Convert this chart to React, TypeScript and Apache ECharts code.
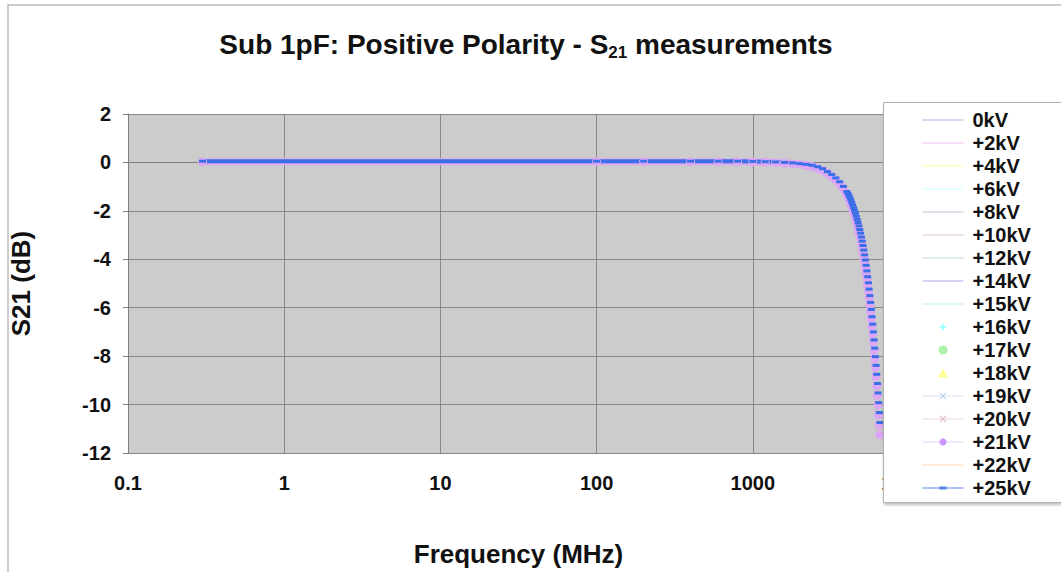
import React, { useEffect, useRef } from "react";
import * as echarts from "echarts";

// Frequency sweep (MHz)
const freqMHz = [
  0.3, 100, 200, 400, 600, 800, 1000, 1200, 1400, 1600, 1800, 2000, 2200, 2400, 2600, 2800, 3000, 3200, 3400, 3600, 3800, 4000,
  4060, 4120, 4180, 4240, 4300, 4360, 4420, 4480, 4540, 4600, 4660, 4720, 4780, 4840, 4900, 4960, 5020, 5080, 5140, 5200,
  5260, 5320, 5380, 5440, 5500, 5560, 5620, 5680, 5740, 5800, 5860, 5920, 5980, 6040, 6100, 6160, 6220, 6280, 6340, 6400,
  6460, 6520,
];

// S21 (dB) for +25kV (blue, drawn on top)
const s21_25kV = [
  0.05, 0.05, 0.05, 0.05, 0.05, 0.05, 0.04, 0.03, 0.02, 0.0, -0.02, -0.05, -0.08, -0.12, -0.18, -0.26, -0.38, -0.5, -0.64, -0.8, -0.99, -1.2,
  -1.28, -1.36, -1.45, -1.55, -1.65, -1.76, -1.87, -1.98, -2.1, -2.22, -2.35, -2.48, -2.62, -2.77, -2.92, -3.08, -3.25, -3.43, -3.62, -3.82,
  -4.03, -4.25, -4.48, -4.72, -4.97, -5.23, -5.5, -5.78, -6.07, -6.37, -6.68, -7.0, -7.33, -7.67, -8.02, -8.38, -8.75, -9.13, -9.52, -9.92,
  -10.33, -10.74,
];

// S21 (dB) for +21kV (lavender circles)
const s21_21kV = [
  0.03, 0.03, 0.03, 0.03, 0.03, 0.03, 0.02, 0.01, 0.0, -0.03, -0.05, -0.08, -0.12, -0.17, -0.24, -0.33, -0.44, -0.57, -0.72, -0.89, -1.09, -1.31,
  -1.4, -1.49, -1.59, -1.7, -1.81, -1.92, -2.04, -2.16, -2.29, -2.42, -2.56, -2.7, -2.85, -3.01, -3.17, -3.35, -3.53, -3.72, -3.92, -4.13,
  -4.35, -4.58, -4.82, -5.07, -5.33, -5.6, -5.88, -6.17, -6.47, -6.78, -7.1, -7.43, -7.77, -8.12, -8.48, -8.85, -9.23, -9.62, -10.02, -10.43,
  -10.84, -11.25,
];

// S21 (dB) for the remaining voltages (hidden underneath)
const s21_others = [
  0.04, 0.04, 0.04, 0.04, 0.04, 0.04, 0.03, 0.02, 0.01, -0.015, -0.035, -0.065, -0.1, -0.145, -0.21, -0.3, -0.41, -0.54, -0.68, -0.85, -1.04, -1.26,
  -1.34, -1.43, -1.52, -1.63, -1.73, -1.84, -1.96, -2.07, -2.2, -2.32, -2.46, -2.59, -2.74, -2.89, -3.05, -3.22, -3.39, -3.58, -3.77, -3.98,
  -4.19, -4.42, -4.65, -4.9, -5.15, -5.42, -5.69, -5.98, -6.27, -6.58, -6.89, -7.22, -7.55, -7.9, -8.25, -8.62, -8.99, -9.38, -9.77, -10.18,
  -10.59, -11.0,
];

const seriesNames = [
  "0kV", "+2kV", "+4kV", "+6kV", "+8kV", "+10kV", "+12kV", "+14kV", "+15kV",
  "+16kV", "+17kV", "+18kV", "+19kV", "+20kV", "+21kV", "+22kV", "+25kV",
];

const xTickValues = [0.1, 1, 10, 100, 1000, 10000];
const xTickLabels = ["0.1", "1", "10", "100", "1000", "10000"];

const X_PATH = "path://M0,1L1,0L5,4L9,0L10,1L6,5L10,9L9,10L5,6L1,10L0,9L4,5Z";
const LINE_ICON = "path://M0,0H41V1.2H0Z";
const DIAMOND_ICON = "path://M4,0L5,3L8,4L5,5L4,8L3,5L0,4L3,3Z";
const TRIANGLE_ICON = "path://M4,0L8,7H0Z";
const DASH_ICON = "path://M0,4.6H17V5.4H0ZM17,3.5H24V6.5H17ZM24,4.6H41V5.4H24Z";

type Style = {
  kind: "line" | "scatter";
  color: string;
  width?: number;
  symbol?: string;
  size?: number | number[];
  values: number[];
  legendLine?: string;
  legendMarker?: string;
  legendIcon?: string;
};

const styles: Style[] = [
  { kind: "line", color: "#b4b4e6", width: 1.5, values: s21_others },
  { kind: "line", color: "#f2bdf2", width: 1.5, values: s21_others },
  { kind: "line", color: "#ffff9c", width: 1.5, values: s21_others },
  { kind: "line", color: "#c8ffff", width: 1.5, values: s21_others },
  { kind: "line", color: "#cfc0d8", width: 1.5, values: s21_others },
  { kind: "line", color: "#e2c4c4", width: 1.5, values: s21_others },
  { kind: "line", color: "#c2dada", width: 1.5, values: s21_others },
  { kind: "line", color: "#aaaaee", width: 1.5, values: s21_others },
  { kind: "line", color: "#c0eeee", width: 1.5, values: s21_others },
  { kind: "scatter", color: "#88ffff", symbol: "diamond", size: 6, values: s21_others, legendIcon: DIAMOND_ICON },
  { kind: "scatter", color: "#99ee99", symbol: "circle", size: 7, values: s21_others },
  { kind: "scatter", color: "#ffff77", symbol: "triangle", size: 6, values: s21_others, legendIcon: TRIANGLE_ICON },
  { kind: "line", color: "#b8cce6", width: 1, symbol: X_PATH, size: 6, values: s21_others, legendLine: "#d4e0f0" },
  { kind: "line", color: "#dcb0c0", width: 1, symbol: X_PATH, size: 6, values: s21_others, legendLine: "#ecd4dc" },
  { kind: "line", color: "#dca6f4", width: 7, symbol: "circle", size: 9, values: s21_21kV, legendLine: "#e8d0fa", legendMarker: "#c898ff" },
  { kind: "line", color: "#ffd4b4", width: 1.5, values: s21_others },
  { kind: "line", color: "#3b6fe8", width: 4, symbol: "rect", size: [7, 3], values: s21_25kV, legendIcon: DASH_ICON, legendMarker: "#5a84ea" },
];

const FONT = "'Liberation Sans', Arial, Helvetica, sans-serif";

export default function App() {
  const ref = useRef<HTMLDivElement>(null);

  useEffect(() => {
    document.body.style.margin = "0";
    if (!ref.current) return;
    const chart = echarts.init(ref.current, undefined, { renderer: "svg" });

    const series = seriesNames.map((name, i) => {
      const s = styles[i];
      const data = freqMHz.map((f, j) => [f, s.values[j]]);
      if (s.kind === "scatter") {
        return {
          name,
          type: "scatter",
          data,
          symbol: s.symbol,
          symbolSize: s.size,
          itemStyle: { color: s.color },
          z: 2,
        };
      }
      return {
        name,
        type: "line",
        data,
        symbol: s.symbol || "none",
        showSymbol: !!s.symbol,
        symbolSize: s.size,
        lineStyle: { color: s.color, width: s.width },
        itemStyle: { color: s.color },
        z: 2,
      };
    });

    const legendData = seriesNames.map((name, i) => {
      const s = styles[i];
      if (s.legendIcon) {
        return { name, icon: s.legendIcon, itemStyle: { color: s.legendMarker || s.color } };
      }
      if (s.kind === "line" && !s.symbol) {
        return { name, icon: LINE_ICON, itemStyle: { color: s.color } };
      }
      if (s.kind === "line") {
        return {
          name,
          lineStyle: { color: s.legendLine || s.color, width: 1 },
          itemStyle: { color: s.legendMarker || s.color },
        };
      }
      return { name };
    });

    chart.setOption({
      animation: false,
      backgroundColor: "#ffffff",
      textStyle: { fontFamily: FONT },
      grid: {
        left: 125,
        right: 1061 - 909,
        top: 114,
        bottom: 572 - 462,
        show: true,
        backgroundColor: "#cccccc",
        borderWidth: 0,
      },
      xAxis: {
        type: "log",
        logBase: 10,
        min: xTickValues[0],
        max: xTickValues[xTickValues.length - 1],
        name: "Frequency (MHz)",
        nameLocation: "middle",
        nameGap: 88,
        nameTextStyle: { fontSize: 26, fontWeight: "bold", color: "#111", fontFamily: FONT },
        axisLine: { show: true, lineStyle: { color: "#808080", width: 1 } },
        axisTick: { show: true, length: 5, lineStyle: { color: "#808080" } },
        splitLine: { show: true, lineStyle: { color: "#888888", width: 1 } },
        minorTick: { show: false },
        axisLabel: {
          margin: 20,
          fontSize: 20,
          fontWeight: "bold",
          color: "#111",
          fontFamily: FONT,
          formatter: (v: number) => {
            const k = xTickValues.findIndex((t) => Math.abs(Math.log10(t) - Math.log10(v)) < 1e-6);
            return k >= 0 ? xTickLabels[k] : "";
          },
        },
      },
      yAxis: {
        type: "value",
        min: -12,
        max: 2,
        interval: 2,
        name: "S21 (dB)",
        nameLocation: "middle",
        nameRotate: 90,
        nameGap: 94,
        nameTextStyle: { fontSize: 26, fontWeight: "bold", color: "#111", fontFamily: FONT },
        axisLine: { show: true, lineStyle: { color: "#808080", width: 1 } },
        axisTick: { show: true, length: 5, lineStyle: { color: "#808080" } },
        splitLine: { show: true, lineStyle: { color: "#888888", width: 1 } },
        axisLabel: { margin: 17, fontSize: 20, fontWeight: "bold", color: "#111", fontFamily: FONT },
      },
      legend: {
        orient: "vertical",
        left: 922,
        top: 108.5,
        padding: 0,
        itemGap: 0,
        itemWidth: 41,
        itemHeight: 9,
        symbolKeepAspect: true,
        data: legendData,
        textStyle: {
          fontSize: 20,
          fontWeight: "bold",
          color: "#111",
          fontFamily: FONT,
          lineHeight: 23,
          padding: [0, 0, 0, 4],
        },
      },
      graphic: {
        elements: [
          {
            type: "rect",
            z: 0,
            silent: true,
            shape: { x: 8, y: 5, width: 1100, height: 620 },
            style: { fill: "none", stroke: "#bdbdbd", lineWidth: 1.5 },
          },
          {
            type: "rect",
            z: 3,
            silent: true,
            shape: { x: 883.5, y: 102.5, width: 200, height: 400 },
            style: {
              fill: "#ffffff",
              stroke: "#b0b0b0",
              lineWidth: 1,
              shadowBlur: 3,
              shadowOffsetX: 1,
              shadowOffsetY: 2,
              shadowColor: "rgba(0,0,0,0.25)",
            },
          },
          {
            type: "text",
            z: 5,
            x: 526,
            y: 44,
            style: {
              text: "{m|Sub 1pF: Positive Polarity - S}{s|21}{m| measurements}",
              align: "center",
              verticalAlign: "middle",
              rich: {
                m: { fontSize: 28, fontWeight: "bold", fontFamily: FONT, fill: "#111", lineHeight: 34 },
                s: { fontSize: 17, fontWeight: "bold", fontFamily: FONT, fill: "#111", lineHeight: 20, verticalAlign: "bottom" },
              },
            },
          },
        ],
      },
      series,
    });

    return () => chart.dispose();
  }, []);

  return <div ref={ref} style={{ width: 1061, height: 572, overflow: "hidden" }} />;
}
